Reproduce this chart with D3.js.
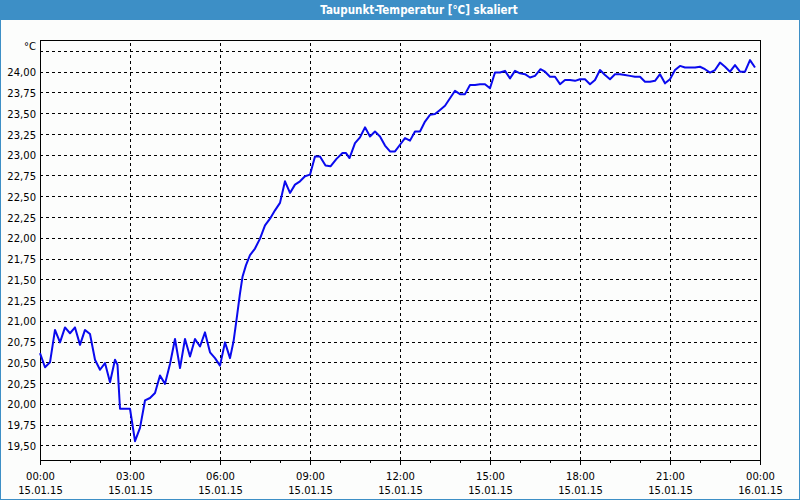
<!DOCTYPE html>
<html><head><meta charset="utf-8">
<script src="https://cdn.jsdelivr.net/npm/d3@7/dist/d3.min.js"></script>
<style>
html,body{margin:0;padding:0;background:#fff;}
svg{display:block;}
text{font-family:"DejaVu Sans",Verdana,sans-serif;}
</style></head><body>
<svg id="c" width="800" height="500"></svg>
<script>
// Data: minutes since 15.01.15 00:00 and dew point temperature (°C)
const minutes = [0,10,20,30,40,50,60,70,80,90,100,110,120,130,140,150,155,160,180,190,200,210,220,230,240,250,260,270,280,290,300,310,320,330,340,350,360,370,380,387,393,400,405,412,420,430,440,450,460,470,480,490,500,510,520,530,540,550,560,571,581,593,605,612,619,630,640,650,660,670,680,690,700,710,720,730,740,750,760,770,780,790,800,810,820,830,840,850,860,870,880,890,900,910,920,930,940,950,960,970,980,990,1001,1010,1020,1030,1040,1050,1060,1070,1080,1090,1100,1110,1120,1130,1140,1150,1160,1170,1180,1190,1200,1210,1220,1230,1240,1250,1260,1270,1280,1290,1300,1310,1320,1330,1340,1350,1360,1370,1380,1390,1400,1410,1420,1430];
const values = [20.61,20.44,20.50,20.89,20.74,20.92,20.85,20.92,20.71,20.89,20.84,20.53,20.41,20.49,20.26,20.53,20.47,19.94,19.94,19.55,19.71,20.04,20.07,20.13,20.34,20.24,20.48,20.78,20.43,20.78,20.57,20.78,20.69,20.86,20.62,20.55,20.46,20.74,20.55,20.75,21.01,21.33,21.53,21.67,21.79,21.87,21.99,22.15,22.23,22.33,22.42,22.68,22.54,22.64,22.68,22.74,22.76,22.98,22.98,22.87,22.86,22.95,23.02,23.02,22.96,23.14,23.21,23.33,23.22,23.28,23.22,23.11,23.04,23.04,23.12,23.20,23.17,23.28,23.28,23.40,23.48,23.49,23.54,23.59,23.68,23.77,23.73,23.73,23.84,23.84,23.85,23.85,23.80,23.99,23.99,24.01,23.92,24.01,23.98,23.97,23.93,23.95,24.03,24.00,23.94,23.94,23.85,23.90,23.90,23.89,23.91,23.91,23.85,23.90,24.02,23.96,23.91,23.97,23.97,23.96,23.95,23.94,23.94,23.88,23.88,23.89,23.97,23.86,23.91,24.02,24.07,24.05,24.05,24.05,24.06,24.03,23.99,24.02,24.11,24.06,24.00,24.08,24.00,24.00,24.14,24.05];

const yTicks = [19.5,19.75,20,20.25,20.5,20.75,21,21.25,21.5,21.75,22,22.25,22.5,22.75,23,23.25,23.5,23.75,24,24.25];
const yTickLabels = ["19,50","19,75","20,00","20,25","20,50","20,75","21,00","21,25","21,50","21,75","22,00","22,25","22,50","22,75","23,00","23,25","23,50","23,75","24,00","°C"];
const xMajor = [0,180,360,540,720,900,1080,1260,1440];
const xTimeLabels = ["00:00","03:00","06:00","09:00","12:00","15:00","18:00","21:00","00:00"];
const xDateLabels = ["15.01.15","15.01.15","15.01.15","15.01.15","15.01.15","15.01.15","15.01.15","15.01.15","16.01.15"];
const xMinor = [60,120,240,300,420,480,600,660,780,840,960,1020,1140,1200,1320,1380];
const title = "Taupunkt-Temperatur [°C] skaliert";

const W = 800, H = 500;
const L = 40, R = 760, T = 40, B = 460;
const svg = d3.select("#c");

// frame
svg.append("rect").attr("x",0).attr("y",0).attr("width",W).attr("height",H).attr("fill","#3d8fc6");
svg.append("rect").attr("x",1).attr("y",20).attr("width",W-2).attr("height",H-21).attr("fill","#fcfdfc");
svg.append("text").attr("x",419).attr("y",14).attr("text-anchor","middle")
  .attr("fill","#fff").attr("font-size","11.5px").attr("font-weight","bold")
  .style("font-family","'DejaVu Sans Condensed','DejaVu Sans',sans-serif").text(title);

const x = d3.scaleLinear().domain([0,1440]).range([L,R]);
const y = d3.scaleLinear().domain([19.323,24.382]).range([B,T]);

// horizontal grid + y labels
const gy = svg.append("g").attr("transform",`translate(${L},0)`)
  .call(d3.axisLeft(y).tickValues(yTicks).tickSize(-(R-L)).tickPadding(4)
    .tickFormat((d,i)=>yTickLabels[i]));
gy.select(".domain").remove();
gy.selectAll(".tick line").attr("stroke","#000").attr("stroke-dasharray","3,3").attr("shape-rendering","crispEdges");
gy.selectAll(".tick text").attr("fill","#000").attr("font-size","10px")
  .style("font-family","'DejaVu Sans',sans-serif").attr("dy","0.42em");
gy.selectAll(".tick").filter(d=>d===24.25).select("text").attr("dy","-0.1em");

// vertical grid
const gx = svg.append("g").attr("transform",`translate(0,${B})`)
  .call(d3.axisBottom(x).tickValues(xMajor.slice(1,-1)).tickSize(-(B-T)).tickFormat(""));
gx.select(".domain").remove();
gx.selectAll(".tick line").attr("stroke","#000").attr("stroke-dasharray","3,3").attr("shape-rendering","crispEdges");

// major ticks + labels
const gxm = svg.append("g").attr("transform",`translate(0,${B})`)
  .call(d3.axisBottom(x).tickValues(xMajor).tickSize(5).tickFormat(""));
gxm.select(".domain").remove();
gxm.selectAll(".tick line").attr("stroke","#000").attr("shape-rendering","crispEdges");
gxm.selectAll(".tick").each(function(d,i){
  const t = d3.select(this).append("text").attr("fill","#000").attr("font-size","10px")
    .attr("text-anchor","middle").style("font-family","'DejaVu Sans',sans-serif");
  t.append("tspan").attr("x",0).attr("y",19.5).text(xTimeLabels[i]);
  t.append("tspan").attr("x",0).attr("y",34).text(xDateLabels[i]);
});
// minor ticks
const gxn = svg.append("g").attr("transform",`translate(0,${B})`)
  .call(d3.axisBottom(x).tickValues(xMinor).tickSize(3).tickFormat(""));
gxn.select(".domain").remove();
gxn.selectAll(".tick line").attr("stroke","#000").attr("shape-rendering","crispEdges");

// plot frame
svg.append("rect").attr("x",L+0.5).attr("y",T+0.5).attr("width",R-L).attr("height",B-T)
  .attr("fill","none").attr("stroke","#000").attr("shape-rendering","crispEdges");

// line
const data = minutes.map((m,i)=>({m, v: values[i]}));
svg.append("path").datum(data)
  .attr("fill","none").attr("stroke","#0a0aee").attr("stroke-width",2).attr("stroke-linejoin","round")
  .attr("d", d3.line().x(d=>x(d.m)).y(d=>y(d.v)));
</script>
</body></html>
